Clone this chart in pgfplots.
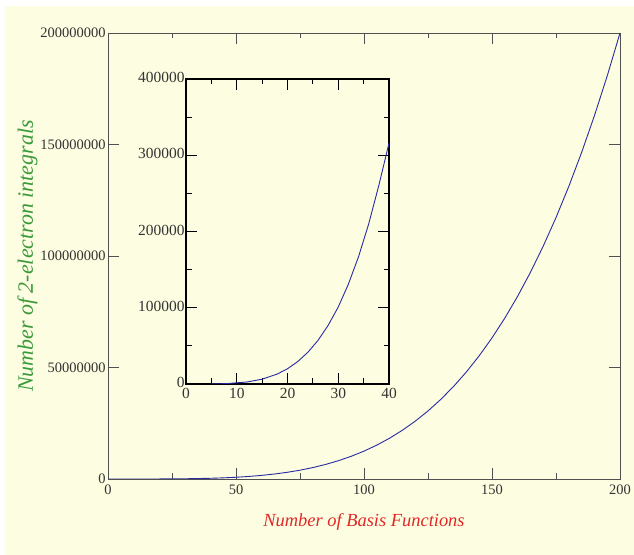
\documentclass[border=0pt]{standalone}
\usepackage{fontspec}
\setmainfont{Liberation Serif}
\usepackage{pgfplots}
\pgfplotsset{compat=1.18}
\definecolor{Paper}{HTML}{FDFDE1}
\definecolor{Curve}{HTML}{2A2AA6}
\definecolor{LabRed}{HTML}{E02828}
\definecolor{LabGreen}{HTML}{3A9A3A}
\definecolor{Frame}{HTML}{505050}
\definecolor{TickText}{HTML}{333333}

\begin{document}
\begin{tikzpicture}[x=1bp,y=1bp]
\useasboundingbox (0,0) rectangle (634,555);
\fill[white] (0,0) rectangle (634,555);
\fill[Paper] (5,0) rectangle (634,549);

% main plot
\begin{axis}[
  at={(108bp,76bp)}, anchor=south west,
  width=512bp, height=446bp, scale only axis,
  xmin=0, xmax=200, ymin=0, ymax=200000000,
  xtick={0,50,100,150,200},
  ytick={0,50000000,100000000,150000000,200000000},
  minor x tick num=1,
  tick align=inside,
  major tick length=11bp, minor tick length=5.5bp,
  axis line style={draw=Frame, line width=0.9bp},
  every tick/.style={draw=Frame, line width=0.9bp},
  scaled ticks=false,
  /pgf/number format/assume math mode=true,
  /pgf/number format/fixed,
  /pgf/number format/1000 sep={},
  tick label style={font=\fontsize{14.5}{16}\selectfont, text=TickText},
  xticklabel style={yshift=-2bp},
  yticklabel style={xshift=1bp},
  xlabel={Number of Basis Functions},
  ylabel={Number of 2-electron integrals},
  every axis x label/.style={at={(axis description cs:0.5,-0.1076)}, anchor=base,
    font=\fontsize{18.5}{20}\selectfont\itshape, text=LabRed},
  every axis y label/.style={at={(axis description cs:-0.1465,0.5)}, rotate=90, anchor=base,
    font=\fontsize{22}{24}\selectfont\itshape, text=LabGreen},
]
\addplot[Curve, line width=0.9bp] coordinates {
 (0,0) (10,1250) (20,20000) (30,101250) (40,320000) (45,512578) (50,781250)
 (55,1143828) (60,1620000) (65,2231328) (70,3001250) (75,3955078)
 (80,5120000) (85,6525078) (90,8201250) (95,10181328) (100,12500000)
 (105,15193828) (110,18301250) (115,21862578) (120,25920000)
 (125,30517578) (130,35701250) (135,41518828) (140,48020000)
 (145,55256328) (150,63281250) (155,72150078) (160,81920000)
 (165,92650078) (170,104401250) (175,117236328) (180,131220000)
 (185,146418828) (190,162901250) (195,180737578) (200,200000000)
};
\end{axis}

% inset
\begin{axis}[
  at={(186bp,171bp)}, anchor=south west,
  width=203bp, height=305bp, scale only axis,
  xmin=0, xmax=40, ymin=0, ymax=400000,
  xtick={0,10,20,30,40},
  ytick={0,100000,200000,300000,400000},
  minor x tick num=1, minor y tick num=1,
  tick align=inside,
  major tick length=11bp, minor tick length=5.5bp,
  axis line style={draw=black, line width=1.3bp},
  every tick/.style={draw=black, line width=1bp},
  scaled ticks=false,
  /pgf/number format/assume math mode=true,
  /pgf/number format/fixed,
  /pgf/number format/1000 sep={},
  tick label style={font=\fontsize{15.5}{17}\selectfont, text=TickText},
  xticklabel style={yshift=-1bp},
  yticklabel style={xshift=2bp, yshift=1.5bp},
]
\addplot[Curve, line width=0.9bp] coordinates {
 (5,80) (8,500) (12,2600) (15,6300) (18,13100) (20,20000) (22,29300)
 (24,41500) (26,57100) (28,76800) (30,101000) (32,131000) (34,167000)
 (36,210000) (38,260600) (40,316000)
};
\end{axis}
\end{tikzpicture}
\end{document}
